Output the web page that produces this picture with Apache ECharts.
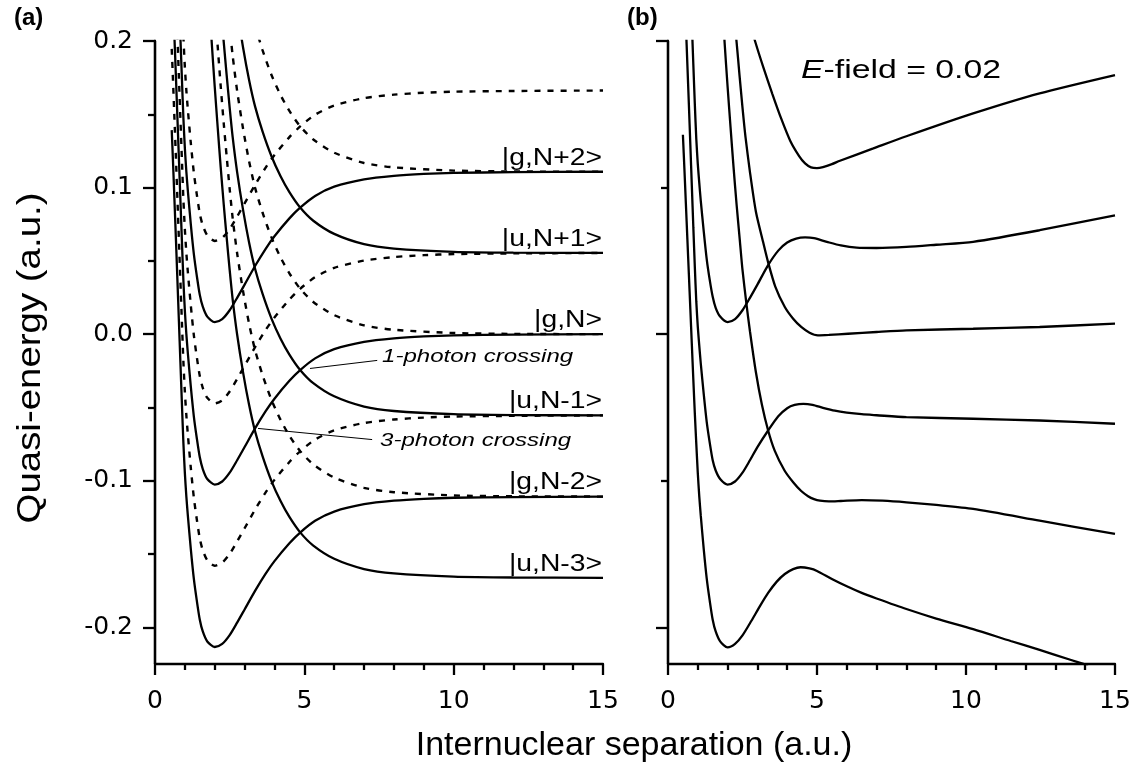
<!DOCTYPE html>
<html>
<head>
<meta charset="utf-8">
<script src="https://cdn.jsdelivr.net/npm/echarts@6/dist/echarts.min.js"></script>
<style>html,body{margin:0;padding:0;background:#fff}#c{width:1134px;height:762px}</style>
</head>
<body>
<div id="c"></div>
<script>
// ---------- tick labels ----------
var xTicks = [0, 5, 10, 15];
var yMajorTicks = [-0.2, -0.1, 0.0, 0.1, 0.2];
var yMinorTicks = [-0.15, -0.05, 0.05, 0.15];
var yMajorTicksB = [-0.2, 0.0, 0.2];
var yMinorTicksB = [-0.1, 0.1];

// ---------- panel (a): solid curves [R, energy] ----------
var a_g_Np2 = [[0.80,0.2308],[0.85,0.2028],[0.90,0.1748],[0.95,0.1478],[1.00,0.1268],[1.05,0.1108],[1.10,0.0978],[1.20,0.0748],[1.30,0.0548],[1.40,0.0398],[1.50,0.0268],[1.60,0.0188],[1.75,0.0120],[2.00,0.0082],[2.25,0.0103],[2.50,0.0163],[2.75,0.0248],[3.00,0.0338],[3.35,0.0465],[3.70,0.0581],[4.00,0.0668],[4.50,0.0790],[4.86,0.0863],[5.36,0.0943],[6.00,0.1006],[7.00,0.1056],[8.00,0.1080],[9.00,0.1093],[10,0.1100],[12,0.1105],[15,0.1108]];
var a_u_Np1 = [[2.75,0.2214],[2.95,0.1954],[3.15,0.1734],[3.35,0.1554],[3.60,0.1384],[3.90,0.1214],[4.20,0.1079],[4.50,0.0969],[4.86,0.0864],[5.30,0.0774],[6.00,0.0684],[7.00,0.0614],[8.00,0.0584],[10,0.0562],[12,0.0556],[15,0.0554]];
var a_g_N = [[0.60,0.230],[0.65,0.203],[0.70,0.176],[0.75,0.148],[0.80,0.120],[0.85,0.092],[0.90,0.064],[0.95,0.037],[1.00,0.016],[1.05,0.000],[1.10,-0.013],[1.20,-0.036],[1.30,-0.056],[1.40,-0.071],[1.50,-0.084],[1.60,-0.092],[1.75,-0.0988],[2.00,-0.1026],[2.25,-0.1005],[2.50,-0.0945],[2.75,-0.0860],[3.00,-0.0770],[3.35,-0.0643],[3.70,-0.0527],[4.00,-0.0440],[4.50,-0.0318],[4.86,-0.0245],[5.36,-0.0165],[6.00,-0.0102],[7.00,-0.0052],[8.00,-0.0028],[9.00,-0.0015],[10,-0.0008],[12,-0.0003],[15,0]];
var a_u_Nm1 = [[2.20,0.2246],[2.30,0.1996],[2.40,0.1766],[2.50,0.1546],[2.60,0.1346],[2.75,0.1106],[2.95,0.0846],[3.15,0.0626],[3.35,0.0446],[3.60,0.0276],[3.90,0.0106],[4.20,-0.0029],[4.50,-0.0139],[4.86,-0.0244],[5.30,-0.0334],[6.00,-0.0424],[7.00,-0.0494],[8.00,-0.0524],[10,-0.0546],[12,-0.0552],[15,-0.0554]];
var a_g_Nm2 = [[0.56,0.1392],[0.60,0.1192],[0.65,0.0922],[0.70,0.0652],[0.75,0.0372],[0.80,0.0092],[0.85,-0.0188],[0.90,-0.0468],[0.95,-0.0738],[1.00,-0.0948],[1.05,-0.1108],[1.10,-0.1238],[1.20,-0.1468],[1.30,-0.1668],[1.40,-0.1818],[1.50,-0.1948],[1.60,-0.2028],[1.75,-0.2096],[2.00,-0.2134],[2.25,-0.2113],[2.50,-0.2053],[2.75,-0.1968],[3.00,-0.1878],[3.35,-0.1751],[3.70,-0.1635],[4.00,-0.1548],[4.50,-0.1426],[4.86,-0.1353],[5.36,-0.1273],[6.00,-0.1210],[7.00,-0.1160],[8.00,-0.1136],[9.00,-0.1123],[10,-0.1116],[12,-0.1111],[15,-0.1108]];
var a_u_Nm3 = [[1.80,0.2338],[1.90,0.1988],[2.00,0.1688],[2.10,0.1408],[2.20,0.1138],[2.30,0.0888],[2.40,0.0658],[2.50,0.0438],[2.60,0.0238],[2.75,-0.0002],[2.95,-0.0262],[3.15,-0.0482],[3.35,-0.0662],[3.60,-0.0832],[3.90,-0.1002],[4.20,-0.1137],[4.50,-0.1247],[4.86,-0.1352],[5.30,-0.1442],[6.00,-0.1532],[7.00,-0.1602],[8.00,-0.1632],[10,-0.1654],[12,-0.1660],[15,-0.1662]];

// ---------- panel (a): dashed curves ----------
var a_g_Np3 = [[0.90,0.2302],[0.95,0.2032],[1.00,0.1822],[1.05,0.1662],[1.10,0.1532],[1.20,0.1302],[1.30,0.1102],[1.40,0.0952],[1.50,0.0822],[1.60,0.0742],[1.75,0.0674],[2.00,0.0636],[2.25,0.0657],[2.50,0.0717],[2.75,0.0802],[3.00,0.0892],[3.35,0.1019],[3.70,0.1135],[4.00,0.1222],[4.50,0.1344],[4.86,0.1417],[5.36,0.1497],[6.00,0.1560],[7.00,0.1610],[8.00,0.1634],[9.00,0.1647],[10,0.1654],[12,0.1659],[15,0.1662]];
var a_u_Np2 = [[3.15,0.2288],[3.35,0.2108],[3.60,0.1938],[3.90,0.1768],[4.20,0.1633],[4.50,0.1523],[4.86,0.1418],[5.30,0.1328],[6.00,0.1238],[7.00,0.1168],[8.00,0.1138],[10,0.1116],[12,0.1110],[15,0.1108]];
var a_g_Np1 = [[0.70,0.2314],[0.75,0.2034],[0.80,0.1754],[0.85,0.1474],[0.90,0.1194],[0.95,0.0924],[1.00,0.0714],[1.05,0.0554],[1.10,0.0424],[1.20,0.0194],[1.30,-0.0006],[1.40,-0.0156],[1.50,-0.0286],[1.60,-0.0366],[1.75,-0.0434],[2.00,-0.0472],[2.25,-0.0451],[2.50,-0.0391],[2.75,-0.0306],[3.00,-0.0216],[3.35,-0.0089],[3.70,0.0027],[4.00,0.0114],[4.50,0.0236],[4.86,0.0309],[5.36,0.0389],[6.00,0.0452],[7.00,0.0502],[8.00,0.0526],[9.00,0.0539],[10,0.0546],[12,0.0551],[15,0.0554]];
var a_u_N = [[2.40,0.232],[2.50,0.21],[2.60,0.19],[2.75,0.166],[2.95,0.14],[3.15,0.118],[3.35,0.100],[3.60,0.083],[3.90,0.066],[4.20,0.0525],[4.50,0.0415],[4.86,0.031],[5.30,0.022],[6.00,0.013],[7.00,0.006],[8.00,0.003],[10,0.0008],[12,0.0002],[15,0]];
var a_g_Nm1 = [[0.56,0.1946],[0.60,0.1746],[0.65,0.1476],[0.70,0.1206],[0.75,0.0926],[0.80,0.0646],[0.85,0.0366],[0.90,0.0086],[0.95,-0.0184],[1.00,-0.0394],[1.05,-0.0554],[1.10,-0.0684],[1.20,-0.0914],[1.30,-0.1114],[1.40,-0.1264],[1.50,-0.1394],[1.60,-0.1474],[1.75,-0.1542],[2.00,-0.1580],[2.25,-0.1559],[2.50,-0.1499],[2.75,-0.1414],[3.00,-0.1324],[3.35,-0.1197],[3.70,-0.1081],[4.00,-0.0994],[4.50,-0.0872],[4.86,-0.0799],[5.36,-0.0719],[6.00,-0.0656],[7.00,-0.0606],[8.00,-0.0582],[9.00,-0.0569],[10,-0.0562],[12,-0.0557],[15,-0.0554]];
var a_u_Nm2 = [[2.00,0.2242],[2.10,0.1962],[2.20,0.1692],[2.30,0.1442],[2.40,0.1212],[2.50,0.0992],[2.60,0.0792],[2.75,0.0552],[2.95,0.0292],[3.15,0.0072],[3.35,-0.0108],[3.60,-0.0278],[3.90,-0.0448],[4.20,-0.0583],[4.50,-0.0693],[4.86,-0.0798],[5.30,-0.0888],[6.00,-0.0978],[7.00,-0.1048],[8.00,-0.1078],[10,-0.1100],[12,-0.1106],[15,-0.1108]];

// ---------- panel (b): E-field = 0.02 ----------
var b_1 = [[2.80,0.209],[2.92,0.200],[3.20,0.182],[3.50,0.164],[3.80,0.147],[4.10,0.132],[4.40,0.1215],[4.60,0.1165],[4.80,0.1138],[5.00,0.1133],[5.20,0.1140],[5.50,0.1160],[5.77,0.1183],[6.89,0.1267],[8.00,0.1350],[10.24,0.1506],[12.47,0.1643],[15,0.1768]];
var b_2 = [[0.75,0.240],[0.80,0.212],[0.85,0.184],[0.90,0.157],[0.95,0.133],[1.00,0.116],[1.05,0.103],[1.10,0.091],[1.20,0.070],[1.30,0.051],[1.40,0.037],[1.50,0.0255],[1.60,0.018],[1.75,0.012],[2.00,0.0082],[2.25,0.0103],[2.50,0.0163],[2.75,0.0248],[3.00,0.0338],[3.35,0.0468],[3.70,0.0570],[4.00,0.0625],[4.30,0.0652],[4.60,0.0660],[4.90,0.0655],[5.33,0.0630],[5.80,0.0605],[6.33,0.0590],[7.00,0.0588],[8.00,0.0595],[9.00,0.0610],[10.24,0.0630],[12.47,0.0709],[15,0.0811]];
var b_3 = [[2.15,0.23],[2.30,0.1996],[2.40,0.1766],[2.50,0.1546],[2.60,0.1346],[2.75,0.1106],[2.95,0.0835],[3.19,0.0630],[3.36,0.0490],[3.60,0.0325],[3.92,0.0185],[4.20,0.0105],[4.47,0.0049],[4.75,0.0010],[5.03,-0.0008],[5.40,-0.0005],[6.04,0.0003],[7.00,0.0015],[8.00,0.0026],[10.24,0.0037],[12.47,0.0049],[15,0.0072]];
var b_4 = [[0.55,0.235],[0.60,0.211],[0.65,0.184],[0.70,0.157],[0.75,0.129],[0.80,0.101],[0.85,0.073],[0.90,0.046],[0.95,0.022],[1.00,0.005],[1.05,-0.008],[1.10,-0.020],[1.20,-0.041],[1.30,-0.060],[1.40,-0.074],[1.50,-0.086],[1.60,-0.093],[1.75,-0.0988],[2.00,-0.1026],[2.25,-0.1005],[2.50,-0.0945],[2.75,-0.0860],[3.00,-0.0770],[3.36,-0.0657],[3.70,-0.0560],[4.00,-0.0505],[4.25,-0.0483],[4.54,-0.0475],[4.85,-0.0482],[5.20,-0.0502],[5.60,-0.0522],[6.00,-0.0535],[6.50,-0.0546],[7.00,-0.0553],[8.00,-0.0566],[10.24,-0.0577],[12.47,-0.0589],[15,-0.0611]];
var b_5 = [[1.80,0.2338],[1.90,0.1988],[2.00,0.1688],[2.10,0.1408],[2.20,0.1138],[2.30,0.0888],[2.41,0.064],[2.50,0.0438],[2.63,0.021],[2.75,0.002],[2.95,-0.026],[3.15,-0.048],[3.36,-0.0657],[3.58,-0.0794],[3.91,-0.0930],[4.20,-0.1010],[4.47,-0.1070],[4.70,-0.1105],[4.90,-0.1125],[5.10,-0.1136],[5.40,-0.1141],[5.80,-0.1138],[6.50,-0.1132],[7.20,-0.1136],[8.00,-0.1147],[9.00,-0.1165],[10.24,-0.1192],[12.47,-0.1272],[15,-0.1363]];
var b_6 = [[0.50,0.136],[0.55,0.113],[0.60,0.089],[0.65,0.065],[0.70,0.041],[0.75,0.017],[0.80,-0.007],[0.85,-0.031],[0.90,-0.054],[0.95,-0.075],[1.00,-0.0948],[1.05,-0.1108],[1.10,-0.1238],[1.20,-0.1468],[1.30,-0.1668],[1.40,-0.1818],[1.50,-0.1948],[1.60,-0.2028],[1.75,-0.2096],[2.00,-0.2137],[2.25,-0.2113],[2.50,-0.2055],[2.80,-0.1955],[3.10,-0.1850],[3.36,-0.1765],[3.65,-0.1688],[3.92,-0.1636],[4.20,-0.1603],[4.45,-0.1590],[4.75,-0.1598],[5.00,-0.1615],[5.50,-0.1670],[6.00,-0.1720],[6.50,-0.1765],[7.00,-0.1803],[8.00,-0.1875],[9.00,-0.1940],[10.24,-0.2012],[11.50,-0.2093],[12.47,-0.2154],[13.50,-0.2221],[14.10,-0.2260]];

// ---------- annotation pointer lines (data space) ----------
var onePhotonPointer = [[5.19,-0.0234],[7.44,-0.0179]];
var threePhotonPointer = [[3.45,-0.0643],[7.27,-0.0719]];

var stateLabels = [
  {text:'|g,N+2>', y:0.1108}, {text:'|u,N+1>', y:0.0554}, {text:'|g,N>', y:0.0},
  {text:'|u,N-1>', y:-0.0554}, {text:'|g,N-2>', y:-0.1108}, {text:'|u,N-3>', y:-0.1662}
];

var FONT = 'Liberation Sans, Arial, Helvetica, sans-serif';
var TICKFONT = 'DejaVu Sans';
var LW = 2.3;

function solid(name, data, xi, yi) {
  return {name:name, type:'line', xAxisIndex:xi, yAxisIndex:yi, data:data, showSymbol:false, smooth:0.25,
    lineStyle:{color:'#000', width:LW, type:'solid'}, silent:true, animation:false, z:3};
}
function dashed(name, data) {
  return {name:name, type:'line', xAxisIndex:0, yAxisIndex:0, data:data, showSymbol:false, smooth:0.25,
    lineStyle:{color:'#000', width:2.4, type:[6,7]}, silent:true, animation:false, z:3};
}

function xAxisDef(grid) {
  return {type:'value', gridIndex:grid, min:0, max:15, interval:5,
    axisLine:{show:true, onZero:false, lineStyle:{color:'#000', width:LW}},
    axisTick:{show:true, inside:false, length:11, lineStyle:{color:'#000', width:LW}},
    minorTick:{show:true, splitNumber:5, length:6, lineStyle:{color:'#000', width:LW}},
    axisLabel:{show:true, margin:25, fontSize:25, fontFamily:TICKFONT, color:'#000',
      customValues:xTicks, formatter:function(v){return String(v);}},
    splitLine:{show:false}, minorSplitLine:{show:false}};
}
function yAxisDef(grid, ticks, len, labels) {
  return {type:'value', gridIndex:grid, min:-0.225, max:0.2, position:'left',
    axisLine:{show:true, onZero:false, lineStyle:{color:'#000', width:LW}},
    axisTick:{show:true, inside:false, length:len, customValues:ticks, lineStyle:{color:'#000', width:LW}},
    axisLabel:{show:labels, margin:22, fontSize:25, fontFamily:TICKFONT, color:'#000',
      customValues:ticks, formatter:function(v){return v.toFixed(1);}},
    splitLine:{show:false}};
}

var chart = echarts.init(document.getElementById('c'), null, {renderer:'canvas'});

var series = [
  solid('|g,N+2>', a_g_Np2, 0, 0), solid('|u,N+1>', a_u_Np1, 0, 0), solid('|g,N>', a_g_N, 0, 0),
  solid('|u,N-1>', a_u_Nm1, 0, 0), solid('|g,N-2>', a_g_Nm2, 0, 0), solid('|u,N-3>', a_u_Nm3, 0, 0),
  dashed('|g,N+3>', a_g_Np3), dashed('|u,N+2>', a_u_Np2), dashed('|g,N+1>', a_g_Np1),
  dashed('|u,N>', a_u_N), dashed('|g,N-1>', a_g_Nm1), dashed('|u,N-2>', a_u_Nm2),
  solid('b1', b_1, 1, 2), solid('b2', b_2, 1, 2), solid('b3', b_3, 1, 2),
  solid('b4', b_4, 1, 2), solid('b5', b_5, 1, 2), solid('b6', b_6, 1, 2),
  {type:'line', xAxisIndex:0, yAxisIndex:0, data:[], silent:true, animation:false,
    markLine:{silent:true, symbol:['none','none'], animation:false, label:{show:false},
      lineStyle:{color:'#000', width:1, type:'solid'},
      data:[[{coord:onePhotonPointer[0]},{coord:onePhotonPointer[1]}],[{coord:threePhotonPointer[0]},{coord:threePhotonPointer[1]}]]}}
];

var graphics = [
  {type:'text', x:14, y:6, style:{text:'(a)', font:'bold 24px '+FONT, fill:'#000'}},
  {type:'text', x:627, y:6, style:{text:'(b)', font:'bold 24px '+FONT, fill:'#000'}},
  {type:'text', x:31, y:358, rotation:Math.PI/2, scaleX:1.13, style:{text:'Quasi-energy (a.u.)', font:'34px '+FONT, fill:'#000', textAlign:'center', textVerticalAlign:'middle'}},
  {type:'text', x:634, y:746, style:{text:'Internuclear separation (a.u.)', font:'34px '+FONT, fill:'#000', textAlign:'center', textVerticalAlign:'middle'}},
  {type:'text', x:801, y:71, scaleX:1.3, style:{text:'{i|E}-field = 0.02', font:'26px '+FONT, fill:'#000', textVerticalAlign:'middle',
     rich:{i:{fontStyle:'italic', fontSize:26, fontFamily:FONT}}}},
  {type:'text', x:382, y:357, scaleX:1.3, style:{text:'1-photon crossing', font:'italic 18.5px '+FONT, fill:'#000', textVerticalAlign:'middle'}},
  {type:'text', x:380, y:441, scaleX:1.3, style:{text:'3-photon crossing', font:'italic 18.5px '+FONT, fill:'#000', textVerticalAlign:'middle'}}
];

var option = {
  backgroundColor:'#fff',
  animation:false,
  grid:[
    {left:155, top:41, width:448, height:623, containLabel:false},
    {left:668, top:41, width:447, height:623, containLabel:false}
  ],
  xAxis:[xAxisDef(0), xAxisDef(1)],
  yAxis:[
    yAxisDef(0, yMajorTicks, 12, true),
    yAxisDef(0, yMinorTicks, 7, false),
    yAxisDef(1, yMajorTicksB, 12, false),
    yAxisDef(1, yMinorTicksB, 7, false)
  ],
  series:series,
  graphic:graphics
};
chart.setOption(option);

// state labels positioned from the data scale
var labelEls = stateLabels.map(function(s){
  var p = chart.convertToPixel({xAxisIndex:0, yAxisIndex:0}, [15, s.y]);
  return {type:'text', x:p[0]-1, y:p[1]-2, scaleX:1.23, style:{text:s.text, font:'23px '+FONT, fill:'#000', textAlign:'right', textVerticalAlign:'bottom'}};
});
chart.setOption({graphic:graphics.concat(labelEls)});
</script>
</body>
</html>
